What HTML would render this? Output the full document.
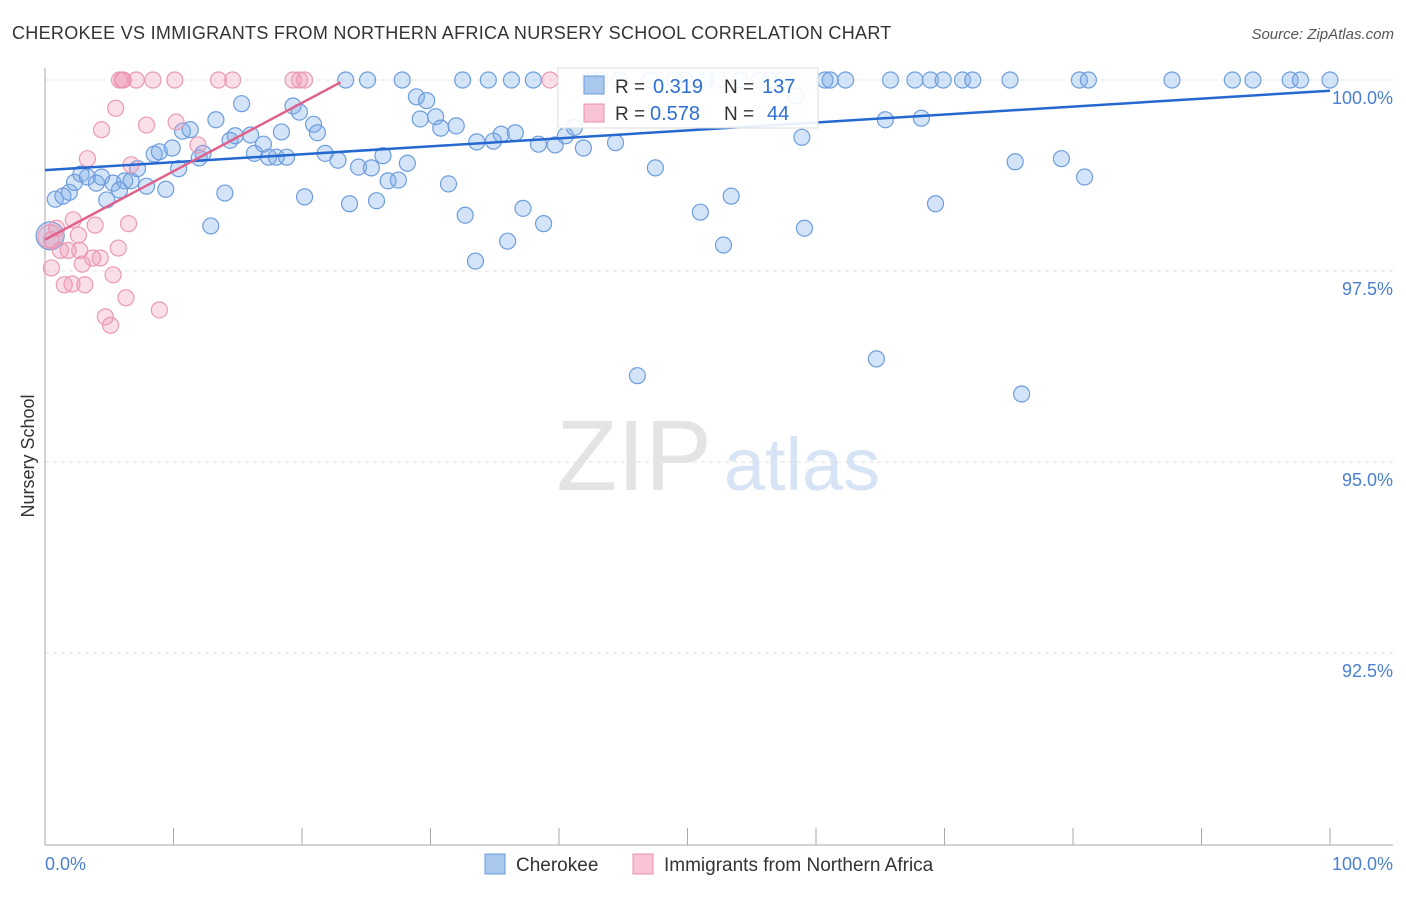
<!DOCTYPE html>
<html><head><meta charset="utf-8"><style>
body{margin:0;background:#fff;font-family:"Liberation Sans",sans-serif;}
svg text{font-family:"Liberation Sans",sans-serif;}
</style></head><body>
<svg id="chart" width="1406" height="892">
<text x="12" y="39" font-size="18" fill="#333" letter-spacing="0.3">CHEROKEE VS IMMIGRANTS FROM NORTHERN AFRICA NURSERY SCHOOL CORRELATION CHART</text>
<text x="1394" y="39" font-size="15" fill="#555" text-anchor="end" font-style="italic">Source: ZipAtlas.com</text>
<text x="34" y="456" font-size="18" fill="#333" text-anchor="middle" transform="rotate(-90 34 456)">Nursery School</text>
<g><text x="634" y="490" font-size="100" fill="#e4e4e4" font-family="Liberation Serif" text-anchor="middle">ZIP</text><text x="802" y="490" font-size="74" fill="#d6e4f5" text-anchor="middle">atlas</text></g>
<g id="grid"></g><g id="pts"></g><g id="trend"></g>
<g>
<rect x="558" y="68" width="260" height="60" fill="#fff" fill-opacity="0.9" stroke="#ddd"/>
<rect x="584" y="76" width="20" height="18" fill="#aac8ee" stroke="#6a9ad8"/>
<text x="615" y="93" font-size="19" fill="#333">R =</text>
<text x="653" y="93" font-size="20" fill="#2d6fd0">0.319</text>
<text x="724" y="93" font-size="19" fill="#333">N =</text>
<text x="762" y="93" font-size="20" fill="#2d6fd0">137</text>
<rect x="584" y="104" width="20" height="18" fill="#f8c4d4" stroke="#e890ab"/>
<text x="615" y="120" font-size="19" fill="#333">R =</text>
<text x="650" y="120" font-size="20" fill="#2d6fd0">0.578</text>
<text x="724" y="120" font-size="19" fill="#333">N =</text>
<text x="767" y="120" font-size="20" fill="#2d6fd0">44</text>
</g>
<g>
<rect x="485" y="854" width="20" height="20" fill="#aac8ee" stroke="#6a9ad8"/>
<text x="516" y="871" font-size="19" fill="#333">Cherokee</text>
<rect x="633" y="854" width="20" height="20" fill="#f8c4d4" stroke="#e890ab"/>
<text x="664" y="871" font-size="19" fill="#333">Immigrants from Northern Africa</text>
</g>
<text x="45" y="870" font-size="18" fill="#4a7fd0">0.0%</text>
<text x="1393" y="870" font-size="18" fill="#4a7fd0" text-anchor="end">100.0%</text>
</svg>
<script>
const yTicks=[100,97.5,95,92.5];
const yTickLabels=["100.0%","97.5%","95.0%","92.5%"];
const xTicks=[0,10,20,30,40,50,60,70,80,90,100];
const blueX=[0.8,1.4,1.9,2.3,2.8,3.3,4.0,4.4,4.8,5.3,5.8,6.2,6.7,7.2,7.9,8.5,8.9,9.4,9.9,10.4,10.7,11.3,12.0,12.3,12.9,13.3,14.0,14.4,14.8,15.3,16.0,16.3,17.0,17.4,18.0,18.4,18.8,19.3,19.8,20.2,20.9,21.2,21.8,22.8,23.4,23.7,24.4,25.1,25.4,25.8,26.3,26.7,27.5,27.8,28.2,28.9,29.2,29.7,30.4,30.8,31.4,32.0,32.5,32.7,33.5,33.6,34.5,34.9,35.5,36.0,36.3,36.6,37.2,38.0,38.4,38.8,39.7,40.5,41.2,41.9,42.4,43.2,44.4,44.7,46.1,47.1,47.5,49.0,49.8,51.0,51.4,52.4,52.8,53.4,54.1,55.6,56.4,57.4,58.4,58.9,59.1,60.7,61.1,62.3,64.7,65.4,65.8,67.7,68.2,68.9,69.3,69.9,71.4,72.2,75.1,75.5,76.0,79.1,80.5,81.2,80.9,87.7,92.4,94.0,96.9,97.7,100,0.4];
const blueY=[98.44,98.48,98.53,98.66,98.77,98.73,98.65,98.73,98.43,98.65,98.56,98.68,98.68,98.84,98.61,99.03,99.06,98.57,99.11,98.84,99.33,99.35,98.98,99.04,98.09,99.48,98.52,99.21,99.27,99.69,99.28,99.04,99.16,98.99,98.99,99.32,98.99,99.66,99.58,98.47,99.42,99.31,99.04,98.95,100,98.38,98.86,100,98.85,98.42,99.01,98.68,98.69,100,98.91,99.78,99.49,99.73,99.52,99.37,98.64,99.40,100,98.23,97.63,99.19,100,99.20,99.29,97.89,100,99.31,98.32,100,99.16,98.12,99.15,99.27,99.38,99.11,100,100,99.18,100,96.13,100,98.85,100,100,98.27,100,100,97.84,98.48,100,100,100,100,99.79,99.25,98.06,100,100,100,96.35,99.48,100,100,99.50,100,98.38,100,100,100,100,98.93,95.89,98.97,100,100,98.73,100,100,100,100,100,100,97.96];
const pinkX=[0.5,0.5,0.9,1.2,1.5,1.8,2.1,2.2,2.6,2.7,2.9,3.1,3.3,3.7,3.9,4.3,4.4,4.7,5.1,5.3,5.5,5.7,5.8,6.0,6.1,6.3,6.5,6.7,7.1,7.9,8.4,8.9,10.1,10.2,11.9,13.5,14.6,19.3,19.8,20.2,39.3,0.4];
const pinkY=[97.91,97.54,98.06,97.77,97.32,97.77,97.33,98.17,97.97,97.77,97.59,97.32,98.97,97.67,98.10,97.67,99.35,96.90,96.79,97.45,99.63,97.80,100,100,100,97.15,98.12,98.89,100,99.41,100,96.99,100,99.45,99.15,100,100,100,100,100,100,97.95];
const blueTrend=[98.82,99.86];
const pinkTrend=[97.91,99.97,23.0];
const X=v=>45+v*12.85, Y=v=>80+(100-v)*76.4;
const NS="http://www.w3.org/2000/svg";
function mk(p,t,a){const e=document.createElementNS(NS,t);for(const k in a)e.setAttribute(k,a[k]);p.appendChild(e);return e;}
const grid=document.getElementById('grid');
yTicks.forEach((t,i)=>{
 const l=mk(grid,'line',{x1:45,x2:1393,y1:Y(t),y2:Y(t),stroke:'#e2e2e2','stroke-dasharray':'4,4'});
 
 
 const tx=mk(grid,'text',{x:1393,y:Y(t)+24,'font-size':18,fill:'#4a7fd0','text-anchor':'end'});
 tx.textContent=yTickLabels[i];
 
 
});
const ax=mk(grid,'line',{x1:45,x2:45,y1:68,y2:845,stroke:'#aaa'});


const bx=mk(grid,'line',{x1:45,x2:1393,y1:845,y2:845,stroke:'#aaa'});


xTicks.forEach(t=>{
 const l=mk(grid,'line',{x1:X(t),x2:X(t),y1:828,y2:845,stroke:'#aaa'});
 
 
});
const pts=document.getElementById('pts');
blueX.forEach((x,i)=>{
 const big=i===blueX.length-1;
 const c=mk(pts,'circle',{cx:X(x),cy:Y(blueY[i]),r:big?14:8,fill:'rgba(120,170,232,0.32)',stroke:'#6d9ddd','stroke-width':1.2});
 
 
});
pinkX.forEach((x,i)=>{
 const big=i===pinkX.length-1;
 const c=mk(pts,'circle',{cx:X(x),cy:Y(pinkY[i]),r:big?12:8,fill:'rgba(240,150,180,0.3)',stroke:'#eb9ab3','stroke-width':1.2});
 
 
});
const tr=document.getElementById('trend');
const bl=mk(tr,'line',{x1:X(0),y1:Y(blueTrend[0]),x2:X(100),y2:Y(blueTrend[1]),stroke:'#2468d0','stroke-width':2.5});


const pl=mk(tr,'line',{x1:X(0),y1:Y(pinkTrend[0]),x2:X(pinkTrend[2]),y2:Y(pinkTrend[1]),stroke:'#e0608c','stroke-width':2.5});


</script>
</body></html>
